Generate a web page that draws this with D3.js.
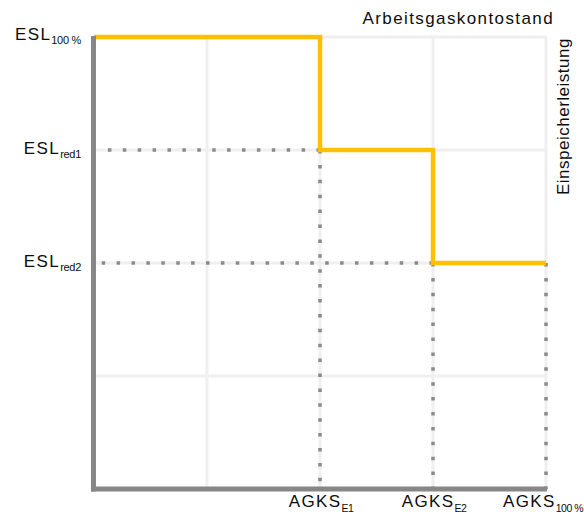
<!DOCTYPE html>
<html>
<head>
<meta charset="utf-8">
<script src="https://cdn.jsdelivr.net/npm/d3@7"></script>
<style>
  html, body { margin: 0; padding: 0; background: #fff; }
  svg { display: block; font-family: "Liberation Sans", Arial, sans-serif; }
</style>
</head>
<body>
<svg id="chart" width="584" height="516"></svg>
<script>
// ---- data ----
const gridValues = [25, 50, 75, 100];
const stepX = [0, 50, 75, 100];        // Arbeitsgaskontostand (%)
const stepY = [100, 75, 50, 50];       // Einspeicherleistung (%)
const yTickValues = [100, 75, 50];
const yTickMain = ["ESL", "ESL", "ESL"];
const yTickSub = ["100 %", "red1", "red2"];
const xTickValues = [50, 75, 100];
const xTickMain = ["AGKS", "AGKS", "AGKS"];
const xTickSub = ["E1", "E2", "100 %"];
const xTitle = "Arbeitsgaskontostand";
const yTitle = "Einspeicherleistung";

// ---- layout ----
const svg = d3.select("#chart");
const x = d3.scaleLinear().domain([0, 100]).range([94, 546]);
const y = d3.scaleLinear().domain([0, 100]).range([489, 37]);

const gridColor = "#efefef";
const axisColor = "#878787";
const dotColor = "#8a8a8a";
const lineColor = "#FFC000";
const textColor = "#0d0d0d";

// grid
const grid = svg.append("g");
grid.selectAll("line.v").data(gridValues).join("line")
  .attr("class", "v")
  .attr("x1", d => x(d)).attr("x2", d => x(d))
  .attr("y1", y(0)).attr("y2", y(100))
  .attr("stroke", gridColor).attr("stroke-width", 3);
grid.selectAll("line.h").data(gridValues).join("line")
  .attr("class", "h")
  .attr("x1", x(0)).attr("x2", x(100))
  .attr("y1", d => y(d)).attr("y2", d => y(d))
  .attr("stroke", gridColor).attr("stroke-width", 3);

// dotted guides
const dots = svg.append("g")
  .attr("stroke", dotColor).attr("stroke-width", 3.5)
  .attr("stroke-dasharray", "3.5,11.4");
yTickValues.slice(1).forEach((v, i) => {
  const xv = stepX[i + 1];
  dots.append("line")
    .attr("x1", x(xv)).attr("x2", x(0) + 3)
    .attr("y1", y(v)).attr("y2", y(v));
});
xTickValues.forEach((v, i) => {
  const yv = stepY[Math.min(i + 1, stepY.length - 1)];
  dots.append("line")
    .attr("x1", x(v)).attr("x2", x(v))
    .attr("y1", y(yv)).attr("y2", y(0));
});

// step line
const line = d3.line()
  .x((d, i) => x(stepX[i]))
  .y((d, i) => y(stepY[i]))
  .curve(d3.curveStepAfter);
svg.append("path")
  .datum(stepX)
  .attr("d", line)
  .attr("fill", "none")
  .attr("stroke", lineColor)
  .attr("stroke-width", 4.5)
  .attr("stroke-linejoin", "miter")
  .attr("stroke-linecap", "butt");

// axes (thick gray L)
svg.append("line")
  .attr("x1", x(0) - 0.5).attr("x2", x(0) - 0.5)
  .attr("y1", y(100) - 1).attr("y2", y(0) + 2.5)
  .attr("stroke", axisColor).attr("stroke-width", 5);
svg.append("line")
  .attr("x1", x(0) - 3).attr("x2", x(100) + 1)
  .attr("y1", y(0)).attr("y2", y(0))
  .attr("stroke", axisColor).attr("stroke-width", 5);

// y tick labels
const yl = svg.append("g").attr("fill", textColor);
yTickValues.forEach((v, i) => {
  const t = yl.append("text")
    .attr("x", 81).attr("y", y(v) + (i === 0 ? 2.5 : 3.5))
    .attr("text-anchor", "end");
  t.append("tspan").text(yTickMain[i])
    .attr("font-size", 17).attr("letter-spacing", 1.4);
  t.append("tspan").text(yTickSub[i])
    .attr("font-size", 11).attr("dy", 4).attr("letter-spacing", -0.3);
});

// x tick labels
const xl = svg.append("g").attr("fill", textColor);
xTickValues.forEach((v, i) => {
  const t = xl.append("text")
    .attr("x", x(v) + (i === 2 ? -3 : 1)).attr("y", 507)
    .attr("text-anchor", "middle");
  t.append("tspan").text(xTickMain[i])
    .attr("font-size", 17).attr("letter-spacing", 1.4);
  t.append("tspan").text(xTickSub[i])
    .attr("font-size", 10.5).attr("dy", 5).attr("letter-spacing", -0.5);
});

// titles
svg.append("text")
  .attr("x", 554).attr("y", 24)
  .attr("text-anchor", "end")
  .attr("font-size", 17).attr("letter-spacing", 1.4)
  .attr("fill", textColor)
  .text(xTitle);
svg.append("text")
  .attr("transform", "translate(569,195) rotate(-90)")
  .attr("text-anchor", "start")
  .attr("font-size", 17).attr("letter-spacing", 0.5)
  .attr("fill", textColor)
  .text(yTitle);
</script>
</body>
</html>
